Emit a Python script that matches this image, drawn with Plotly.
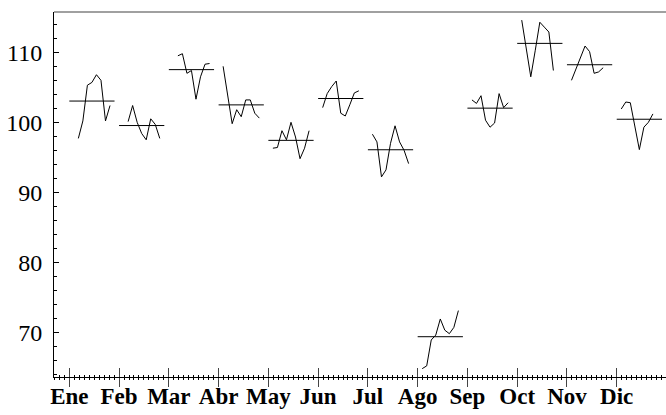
import plotly.graph_objects as go

meses = ["Ene", "Feb", "Mar", "Abr", "May", "Jun", "Jul", "Ago", "Sep", "Oct", "Nov", "Dic"]

ene = [97.7, 100.2, 105.3, 105.7, 106.8, 106.0, 100.2, 102.4]
feb = [100.1, 102.4, 100.0, 98.4, 97.5, 100.5, 99.7, 97.7]
mar = [109.5, 109.8, 107.0, 107.4, 103.3, 106.5, 108.3, 108.4]
abr = [108.0, 103.7, 99.8, 101.8, 100.8, 103.2, 103.2, 101.3, 100.6]
may = [96.3, 96.4, 98.8, 97.5, 100.0, 97.9, 94.8, 96.3, 98.8]
jun = [102.1, 104.1, 105.1, 105.9, 101.3, 100.9, 102.5, 104.2, 104.5]
jul = [98.3, 97.2, 92.2, 93.2, 97.0, 99.5, 97.2, 96.0, 94.1]
ago = [64.8, 65.2, 68.9, 69.6, 71.9, 70.3, 69.8, 70.7, 73.1]
sep = [103.2, 102.7, 103.8, 100.3, 99.3, 99.9, 104.1, 102.1, 102.8]
oct_ = [114.6, 110.6, 106.5, 110.3, 114.3, 113.6, 112.9, 107.4]
nov = [106.0, 107.6, 109.2, 110.9, 110.1, 107.0, 107.2, 107.8]
dic = [101.9, 102.9, 102.8, 99.3, 96.1, 99.3, 100.0, 101.2]

series = [ene, feb, mar, abr, may, jun, jul, ago, sep, oct_, nov, dic]
# index of the first year present for each month (data runs Abr year 1 .. Sep year 9)
primer_anio = [2, 2, 2, 1, 1, 1, 1, 1, 1, 1, 1, 1]
n_anios = 9

y_ticks = [70, 80, 90, 100, 110]

slot = n_anios + 2
fig = go.Figure()
for m, (vals, a0) in enumerate(zip(series, primer_anio), start=1):
    xs = [m + (a0 + i) / slot for i in range(len(vals))]
    fig.add_trace(go.Scatter(x=xs, y=vals, mode="lines",
                             line=dict(color="black", width=1), showlegend=False,
                             hoverinfo="skip"))
    media = sum(vals) / len(vals)
    fig.add_trace(go.Scatter(x=[m, m + (slot - 1) / slot], y=[media, media], mode="lines",
                             line=dict(color="black", width=1), showlegend=False,
                             hoverinfo="skip"))

# helper trace so the overlay axis (inward tick halves) is drawn
fig.add_trace(go.Scatter(x=[None], y=[None], xaxis="x2", yaxis="y", showlegend=False))

xr = [0.6926, 12.99]

fig.update_layout(
    width=666, height=415,
    margin=dict(l=54, r=0, t=12, b=38, autoexpand=False),
    paper_bgcolor="white", plot_bgcolor="white",
    xaxis=dict(
        range=xr, tickmode="array", tickvals=list(range(1, 13)), ticktext=meses,
        ticks="outside", ticklen=9, tickwidth=1, tickcolor="#444",
        showline=True, linecolor="black", linewidth=1, showgrid=False, zeroline=False,
        automargin=False, ticklabelstandoff=-11,
        tickfont=dict(family="Liberation Serif", size=23, color="black", weight="bold"),
        minor=dict(dtick=0.1, tick0=1, ticks="outside", ticklen=2, tickcolor="black", tickwidth=1,
                   showgrid=False),
    ),
    xaxis2=dict(
        range=xr, overlaying="x", matches="x", side="bottom", anchor="y",
        tickmode="array", tickvals=list(range(1, 13)), showticklabels=False,
        ticks="inside", ticklen=9, tickwidth=1, tickcolor="#444",
        showline=False, showgrid=False, zeroline=False, automargin=False,
        minor=dict(dtick=0.1, tick0=1, ticks="inside", ticklen=2, tickcolor="black", tickwidth=1,
                   showgrid=False),
    ),
    yaxis=dict(
        range=[63.61, 115.76], tickmode="array", tickvals=y_ticks,
        ticks="inside", ticklen=5, tickwidth=1, tickcolor="black",
        showline=True, linecolor="black", linewidth=1, showgrid=False, zeroline=False,
        automargin=False,
        tickfont=dict(family="Liberation Serif", size=24, color="black"), ticklabelstandoff=6,
        minor=dict(dtick=2, ticks="inside", ticklen=3, tickcolor="black", tickwidth=1,
                   showgrid=False),
    ),
    shapes=[dict(type="line", xref="paper", yref="paper", x0=0, x1=1, y0=1, y1=1,
                 line=dict(color="#808080", width=1.5))],
)

fig.write_html("out.html", config={"displayModeBar": False},
               post_script="document.body.style.margin='0px';")
